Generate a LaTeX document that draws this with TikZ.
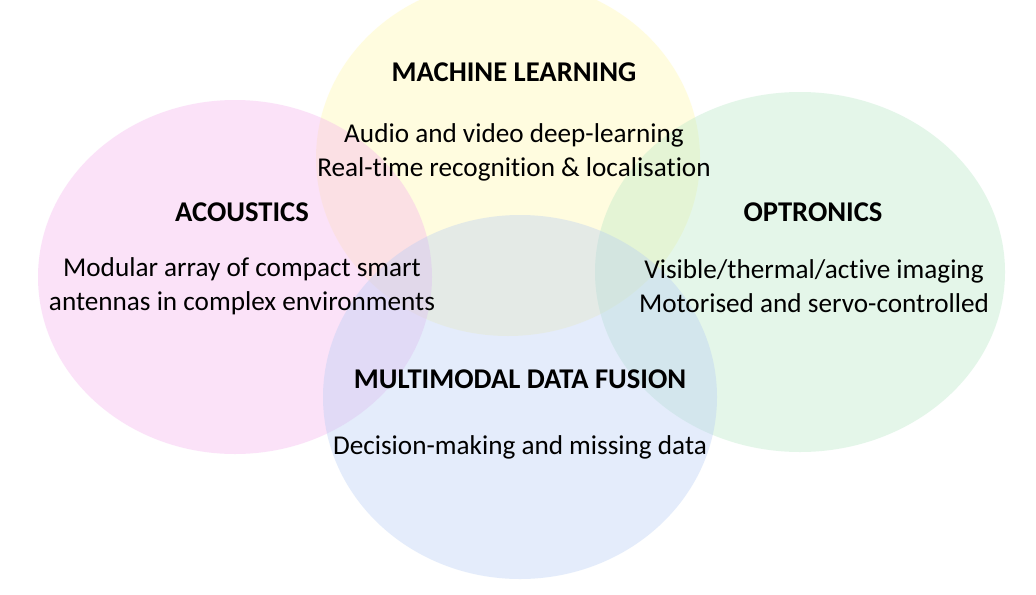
\documentclass[tikz,border=0pt]{standalone}
\usepackage{fontspec}
\setmainfont{Carlito}[Ligatures=NoCommon]
\usepackage{tikz}
\usetikzlibrary{positioning}
\definecolor{mlc}{HTML}{FFF9A8}
\definecolor{acc}{HTML}{F5B0EE}
\definecolor{opc}{HTML}{B5E8C4}
\definecolor{fuc}{HTML}{B5CCF5}

\begin{document}
\begin{tikzpicture}[x=0.5pt, y=-0.5pt,
      blob/.style={fill opacity=0.36, draw=none},
      head/.style={font=\fontsize{14.3}{17}\selectfont\bfseries, align=center},
      body/.style={font=\fontsize{13.6}{17}\selectfont, align=center}]
    \useasboundingbox (0,0) rectangle (1036,594);
    \fill[white] (0,0) rectangle (1036,594);
    % circles
    \fill[blob, mlc] (508,158) ellipse [x radius=192, y radius=178];
    \fill[blob, acc] (235,277) ellipse [x radius=197, y radius=177];
    \fill[blob, opc] (800,272) ellipse [x radius=205, y radius=180];
    \fill[blob, fuc] (520,397) ellipse [x radius=197, y radius=182];
    % texts
    \node[head] (ml) at (514,72) {MACHINE LEARNING};
    \node[body] (mltxt) at (514,152) {Audio and video deep-learning\\Real-time recognition \& localisation};
    \node[head] (ac) at (242,212) {ACOUSTICS};
    \node[body] (actxt) at (242,286) {Modular array of compact smart\\antennas in complex environments};
    \node[head] (op) at (813,212) {OPTRONICS};
    \node[body] (optxt) at (814,286) {Visible/thermal/active imaging\\Motorised and servo-controlled};
    \node[head] (fu) at (520,379) {MULTIMODAL DATA FUSION};
    \node[body] (futxt) at (520,447) {Decision-making and missing data};
  \end{tikzpicture}
\end{document}
